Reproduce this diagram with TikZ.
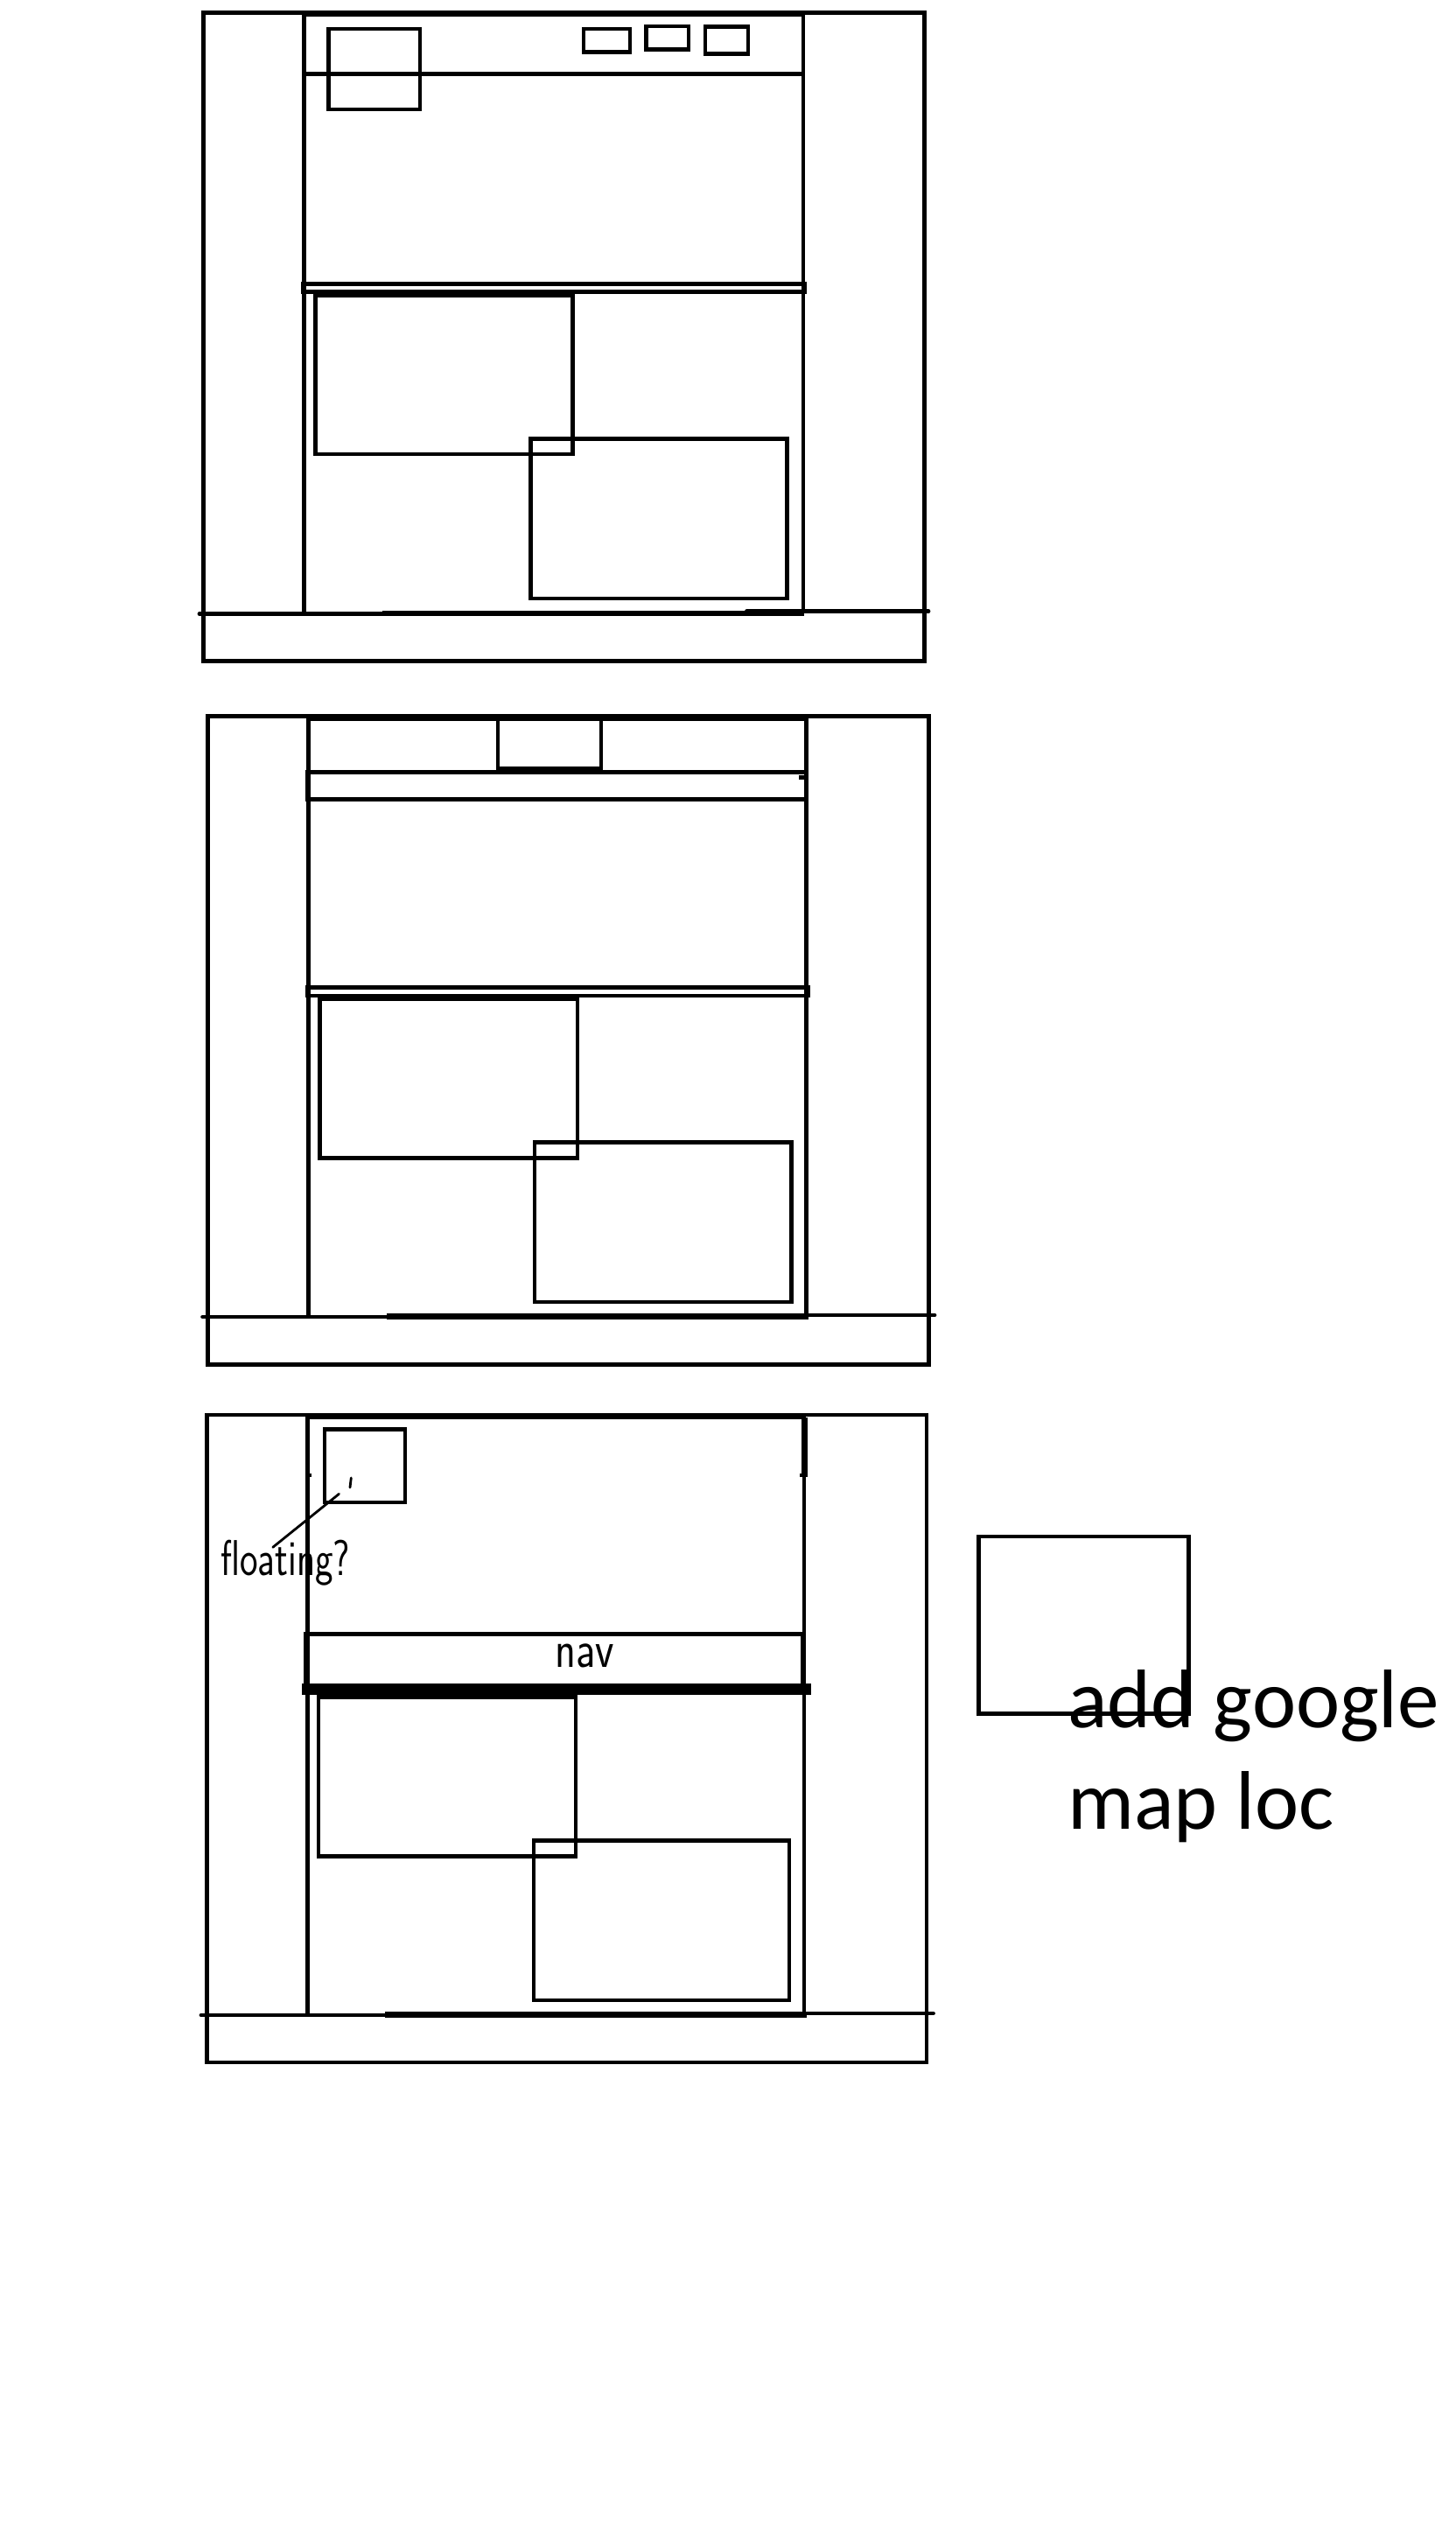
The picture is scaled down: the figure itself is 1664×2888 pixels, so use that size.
\documentclass[tikz,border=0pt]{standalone}
\usepackage{fontspec}
\newfontfamily\carlito{Carlito}
\begin{document}
\begin{tikzpicture}[x=1pt,y=-1pt,
  fr/.style={line width=4.8pt},
  bx/.style={line width=4.5pt},
  thk/.style={line width=6.5pt},
  tick/.style={line width=4.5pt},
  foot/.style={line width=4.8pt,line cap=round},
  hand/.style={line width=2.8pt,line cap=round},
  handtxt/.style={inner sep=0pt,anchor=base west},
  bigtxt/.style={inner sep=0pt,anchor=base west,font=\carlito\fontsize{95}{112}\selectfont}]
\useasboundingbox (0,0) rectangle (1664,2888);
\fill[white] (0,0) rectangle (1664,2888);

% ---------------- Frame 1 ----------------
\draw[fr] (232.7,14.3) rectangle (1056.5,755.5);
\draw[fr] (347.2,701) -- (347.2,16.5) -- (918,16.5) -- (918,701);
\draw[fr] (347.2,84.2) -- (918,84.2);
\draw[bx] (375.7,33.2) rectangle (479.8,125);
\draw[bx] (667.2,33.2) rectangle (719.8,59.3);
\draw[bx] (738.7,30.2) rectangle (787.1,56.3);
\draw[bx] (806,30.3) rectangle (855,61.3);
\draw[fr] (346.7,324.5) rectangle (919.4,333.7);
\draw[bx] (360.5,338) rectangle (654.7,519);
\draw[bx] (606.5,501.3) rectangle (899.3,684.2);
\draw[foot] (228,701.7) -- (440,701.7);
\draw[thk] (436.7,700.8) -- (918.6,700.8);
\draw[foot] (853.4,698.7) -- (1061,698.7);

% ---------------- Frame 2 ----------------
\draw[fr] (237.8,818.5) rectangle (1061.3,1559.5);
\draw[fr] (352.5,1505) -- (352.5,822) -- (921.7,822) -- (921.7,1505);
\draw[fr] (569,822) -- (569,878) -- (687,878) -- (687,822);
\draw[fr] (351,882.4) rectangle (922,913.3);
\draw[tick] (913,888.5) -- (920,888.5);
\draw[fr] (351.7,1128.7) rectangle (924,1138);
\draw[bx] (365.6,1142) rectangle (660,1323.7);
\draw[bx] (611,1305.5) rectangle (904.5,1488);
\draw[foot] (231.6,1505) -- (444,1505);
\draw[thk] (442,1504.5) -- (924.4,1504.5);
\draw[foot] (857,1503) -- (1068,1503);

% ---------------- Frame 3 ----------------
\draw[fr] (236.5,1617) rectangle (1059,2357);
\draw[fr] (351.2,2303) -- (351.2,1620) -- (919,1620) -- (919,2303);
\draw[thk] (919.5,1620) -- (919.5,1687);
\draw[tick] (914,1686) -- (923,1686);
\draw[tick] (351,1686) -- (356,1686);
\draw[bx] (371,1633.7) rectangle (462.8,1717);
\draw[fr] (349.6,1867.7) rectangle (917.5,1930);
\fill (345,1923.5) rectangle (927,1937.3);
\draw[bx] (364,1939.7) rectangle (658,2121.3);
\draw[bx] (610,2103.3) rectangle (902,2286);
\draw[foot] (230,2303) -- (442,2303);
\draw[thk] (440,2302.5) -- (921.6,2302.5);
\draw[foot] (856,2301) -- (1066.5,2301);

% annotation "floating?"
\draw[hand] (401.3,1689) -- (400,1700);
\draw[hand] (387.5,1707.3) -- (311.8,1768.3);
\node[handtxt] (floatlbl) at (252,1800) {\sffamily\fontsize{46}{46}\selectfont\scalebox{0.95}[1.25]{floating?}};
\node[inner sep=0pt] (navlbl) at (668,1892) {\sffamily\fontsize{55}{55}\selectfont\scalebox{0.9}[1.1]{nav}};

% ---------------- map box ----------------
\draw[fr] (1118.5,1756) rectangle (1358.6,1958.7);
\node[bigtxt] (addtxt) at (1220,1974) {add google};
\node[bigtxt] (maptxt) at (1220,2090) {map loc};
\end{tikzpicture}
\end{document}
